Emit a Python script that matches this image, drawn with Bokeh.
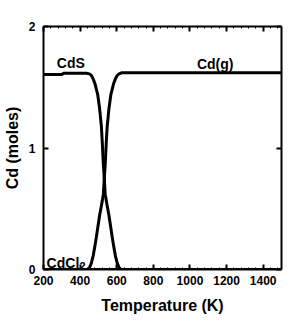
from bokeh.plotting import figure
from bokeh.models import LinearAxis, SingleIntervalTicker, Range1d, Label, CustomJSTickFormatter
from bokeh.embed import file_html
from bokeh.resources import INLINE

# ---- data ----
t_cds = [200, 300, 310, 435, 451, 460, 471, 481, 491, 496, 506, 516, 521, 527, 532,
         537, 547, 557, 567, 577, 583, 593, 603, 613, 623, 1500]
cds = [1.605, 1.605, 1.615, 1.615, 1.61, 1.60, 1.57, 1.53, 1.47, 1.44, 1.33, 1.18,
       1.05, 0.86, 0.75, 0.62, 0.53, 0.45, 0.35, 0.25, 0.195, 0.11, 0.05, 0.015, 0.0, 0.0]

t_cdg = [200, 441, 451, 461, 471, 481, 487, 497, 507, 517, 527, 532, 537, 543, 548,
         558, 568, 573, 583, 593, 604, 613, 629, 1500]
cdg = [0.0, 0.0, 0.015, 0.05, 0.11, 0.195, 0.25, 0.35, 0.45, 0.53, 0.62, 0.75, 0.86,
       1.05, 1.18, 1.33, 1.44, 1.47, 1.53, 1.57, 1.60, 1.61, 1.62, 1.62]

t_cdcl2 = [200, 1500]
cdcl2 = [0.0, 0.0]

x_ticks = [200, 400, 600, 800, 1000, 1200, 1400]
y_ticks = [0, 1, 2]

FONT = "Liberation Sans"

p = figure(width=283, height=316, x_range=Range1d(200, 1500), y_range=Range1d(0, 2),
           output_backend="svg", toolbar_location=None,
           min_border_left=41, min_border_right=2, min_border_top=26, min_border_bottom=46)
p.background_fill_color = "white"
p.border_fill_color = "white"
p.outline_line_color = None
p.xgrid.visible = False
p.ygrid.visible = False

blank = CustomJSTickFormatter(code="return ''")


def style_axis(ax, show_labels=True):
    ax.axis_line_color = "black"
    ax.axis_line_width = 2
    ax.major_tick_in = 5
    ax.major_tick_out = 0
    ax.major_tick_line_width = 2
    ax.minor_tick_in = 2
    ax.minor_tick_out = 0
    ax.minor_tick_line_width = 1
    ax.major_label_text_font = FONT
    ax.major_label_text_font_style = "bold"
    ax.major_label_text_font_size = "12px"
    ax.major_label_text_color = "black"
    ax.axis_label_text_font = FONT
    ax.axis_label_text_font_style = "bold"
    ax.axis_label_text_font_size = "16px"
    ax.axis_label_text_color = "black"
    if not show_labels:
        ax.formatter = blank
        ax.major_label_standoff = 0


p.xaxis.ticker = SingleIntervalTicker(interval=200, num_minor_ticks=5)
p.yaxis.ticker = SingleIntervalTicker(interval=1, num_minor_ticks=0)
p.xaxis.axis_label = "Temperature (K)"
p.yaxis.axis_label = "Cd (moles)"
style_axis(p.xaxis[0])
style_axis(p.yaxis[0])
p.xaxis.major_label_standoff = 6
p.xaxis.axis_label_standoff = 9
p.yaxis.major_label_standoff = 8
p.yaxis.axis_label_standoff = 5

top = LinearAxis(ticker=SingleIntervalTicker(interval=200, num_minor_ticks=5))
right = LinearAxis(ticker=SingleIntervalTicker(interval=1, num_minor_ticks=0))
style_axis(top, False)
style_axis(right, False)
p.add_layout(top, "above")
p.add_layout(right, "right")

p.line(t_cdcl2, cdcl2, line_color="black", line_width=3)
p.line(t_cds, cds, line_color="black", line_width=3, line_join="round")
p.line(t_cdg, cdg, line_color="black", line_width=3, line_join="round")

lab = dict(text_font=FONT, text_font_style="bold", text_color="black")
p.add_layout(Label(x=349, y=1.70, text="CdS", text_align="center",
                   text_baseline="middle", text_font_size="14px", **lab))
p.add_layout(Label(x=1138, y=1.69, text="Cd(g)", text_align="center",
                   text_baseline="middle", text_font_size="14px", **lab))
p.add_layout(Label(x=217, y=0.05, text="CdCl", text_align="left",
                   text_baseline="alphabetic", text_font_size="14px", **lab))
p.add_layout(Label(x=217, y=0.05, x_offset=33, y_offset=-3, text="2", text_align="left",
                   text_baseline="alphabetic", text_font_size="11px", **lab))

open("out.html", "w").write(file_html(p, INLINE))
